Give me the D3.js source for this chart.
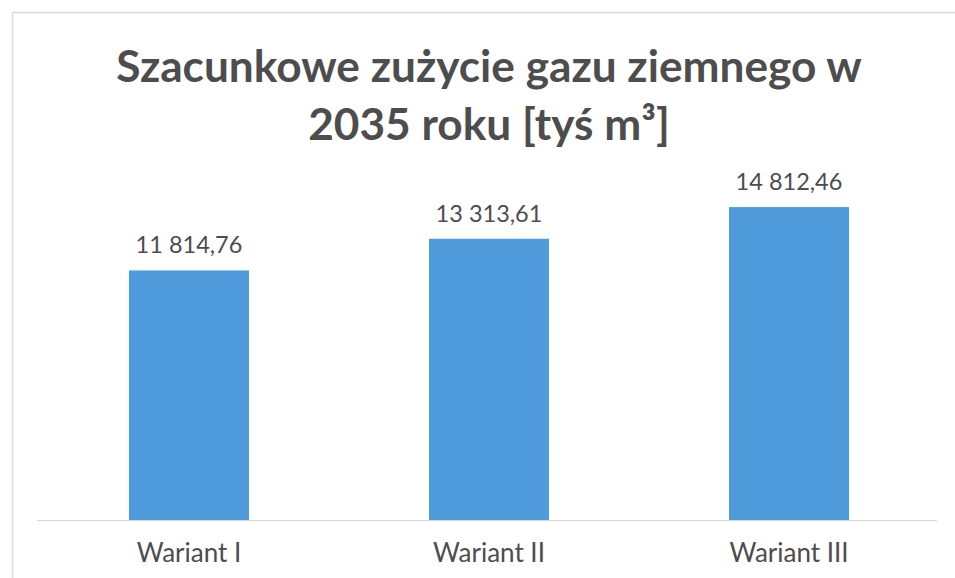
<!DOCTYPE html>
<html>
<head>
<meta charset="utf-8">
<script src="https://cdn.jsdelivr.net/npm/d3@7"></script>
<style>
  html, body { margin: 0; padding: 0; background: #ffffff; }
  svg { display: block; }
</style>
</head>
<body>
<svg id="chart" width="955" height="578"></svg>
<script>
const categories = ["Wariant I", "Wariant II", "Wariant III"];
const values = [11814.76, 13313.61, 14812.46];
const valueLabels = ["11 814,76", "13 313,61", "14 812,46"];
const titleLines = ["Szacunkowe zużycie gazu ziemnego w", "2035 roku [tyś m³]"];

const svg = d3.select("#chart");
const W = 955, H = 578;
const textColor = "#4d4d4d";
const barColor = "#509bdb";
const fontFam = "Lato, 'Open Sans', sans-serif";

// frame (chart area border)
svg.append("line").attr("x1", 12).attr("x2", W).attr("y1", 12.5).attr("y2", 12.5)
  .attr("stroke", "#dcdcdc").attr("stroke-width", 1.5);
svg.append("line").attr("x1", 12.5).attr("x2", 12.5).attr("y1", 12).attr("y2", H)
  .attr("stroke", "#dcdcdc").attr("stroke-width", 1.5);

// scales
const x = d3.scaleBand().domain(categories).range([39, 939]).paddingInner(0.6).paddingOuter(0.3);
const y = d3.scaleLinear().domain([0, 16000]).range([520, 182]);

// title
const title = svg.append("text")
  .attr("text-anchor", "middle")
  .attr("font-family", fontFam)
  .attr("font-weight", "bold")
  .attr("font-size", 44.2)
  .attr("fill", textColor);
titleLines.forEach((t, i) => {
  title.append("tspan").attr("x", 489).attr("y", 82 + i * 58).text(t);
});

// bars
svg.append("g").selectAll("rect").data(values).join("rect")
  .attr("x", (d, i) => x(categories[i]))
  .attr("y", d => y(d))
  .attr("width", x.bandwidth())
  .attr("height", d => y(0) - y(d))
  .attr("fill", barColor);

// baseline axis
const axis = d3.axisBottom(x).tickSize(0).tickPadding(24);
const gx = svg.append("g").attr("transform", `translate(0,${y(0)})`).call(axis);
gx.select(".domain").attr("stroke", "#d6d6d6").attr("stroke-width", 1.2)
  .attr("d", "M37,0.5H937");
gx.selectAll(".tick text")
  .attr("font-family", fontFam)
  .attr("font-size", 26)
  .attr("fill", textColor);

// data labels
svg.append("g").selectAll("text").data(values).join("text")
  .attr("x", (d, i) => x(categories[i]) + x.bandwidth() / 2)
  .attr("y", d => y(d) - 17)
  .attr("text-anchor", "middle")
  .attr("font-family", fontFam)
  .attr("font-size", 23.5)
  .attr("fill", textColor)
  .text((d, i) => valueLabels[i]);
</script>
</body>
</html>
